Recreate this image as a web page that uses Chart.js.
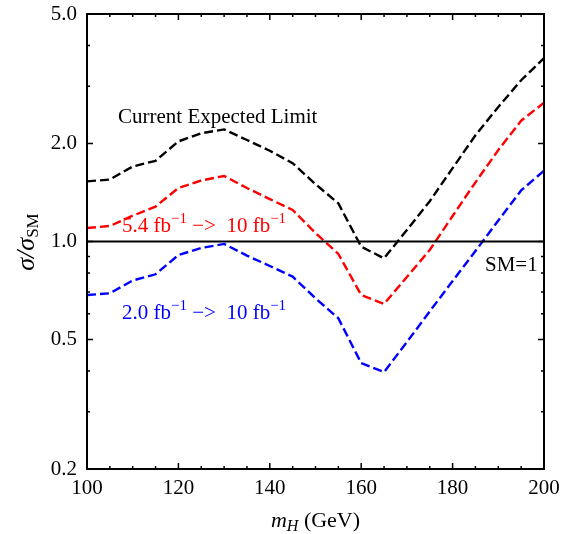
<!DOCTYPE html>
<html>
<head>
<meta charset="utf-8">
<script src="https://cdn.jsdelivr.net/npm/chart.js@4"></script>
<style>
  html, body { margin: 0; padding: 0; background: #fff; }
  canvas { display: block; }
</style>
</head>
<body>
<canvas id="limitChart" width="576" height="534"></canvas>
<script>
// data block
const massPoints = [100, 105, 110, 115, 120, 125, 130, 135, 140, 145, 150, 155, 160, 165, 170, 175, 180, 185, 190, 195, 200];
const currentLimit = [1.53, 1.55, 1.70, 1.77, 2.03, 2.15, 2.21, 2.05, 1.90, 1.74, 1.50, 1.31, 0.964, 0.888, 1.085, 1.33, 1.68, 2.12, 2.59, 3.13, 3.66];
const lumi54to10 = [1.10, 1.116, 1.20, 1.28, 1.46, 1.54, 1.59, 1.46, 1.35, 1.25, 1.062, 0.916, 0.685, 0.643, 0.778, 0.942, 1.198, 1.52, 1.91, 2.35, 2.67];
const lumi20to10 = [0.685, 0.693, 0.759, 0.793, 0.909, 0.955, 0.983, 0.905, 0.841, 0.780, 0.669, 0.581, 0.423, 0.397, 0.491, 0.610, 0.756, 0.935, 1.16, 1.435, 1.65];
const smValue = 1;

const xMajorTicks = [100, 120, 140, 160, 180, 200];
const xMinorStep = 5;
const yMajorTicks = [0.2, 0.5, 1.0, 2.0, 5.0];
const yMinorTicks = [0.3, 0.4, 0.6, 0.7, 0.8, 0.9, 3, 4];

const serif = '"Liberation Serif", "DejaVu Serif", serif';

function toPoints(values) {
	return massPoints.map((m, i) => ({ x: m, y: values[i] }));
}

// draw a row of text pieces (for sub/superscripts)
function drawRuns(ctx, x, y, runs) {
	let cx = x;
	runs.forEach((r) => {
		ctx.font = (r.style || '') + ' ' + r.size + 'px ' + serif;
		ctx.fillText(r.t, cx, y + (r.dy || 0));
		cx += ctx.measureText(r.t).width;
	});
}

function runsWidth(ctx, runs) {
	let w = 0;
	runs.forEach((r) => {
		ctx.font = (r.style || '') + ' ' + r.size + 'px ' + serif;
		w += ctx.measureText(r.t).width;
	});
	return w;
}

// frame, inward ticks, titles, labels
const framePlugin = {
	id: 'framePlugin',
	afterDraw(chart) {
		const ctx = chart.ctx;
		const area = chart.chartArea;
		const xs = chart.scales.x;
		const ys = chart.scales.y;
		ctx.save();
		ctx.strokeStyle = '#000';
		ctx.lineWidth = 2;
		ctx.strokeRect(area.left, area.top, area.right - area.left, area.bottom - area.top);

		ctx.lineWidth = 1.5;
		ctx.beginPath();
		for (let m = xs.min; m <= xs.max; m += xMinorStep) {
			const px = xs.getPixelForValue(m);
			const len = xMajorTicks.includes(m) ? 6 : 3;
			ctx.moveTo(px, area.bottom); ctx.lineTo(px, area.bottom - len);
			ctx.moveTo(px, area.top); ctx.lineTo(px, area.top + len);
		}
		yMajorTicks.concat(yMinorTicks).forEach((v) => {
			const py = ys.getPixelForValue(v);
			const len = yMajorTicks.includes(v) ? 6 : 3;
			ctx.moveTo(area.left, py); ctx.lineTo(area.left + len, py);
			ctx.moveTo(area.right, py); ctx.lineTo(area.right - len, py);
		});
		ctx.stroke();

		ctx.fillStyle = '#000';
		ctx.textBaseline = 'alphabetic';
		ctx.textAlign = 'left';

		// x title
		const xRuns = [
			{ t: 'm', size: 22, style: 'italic' },
			{ t: 'H', size: 16, style: 'italic', dy: 4 },
			{ t: ' (GeV)', size: 22 },
		];
		const xw = runsWidth(ctx, xRuns);
		drawRuns(ctx, (area.left + area.right) / 2 - xw / 2, 527, xRuns);

		// y title
		const yRuns = [
			{ t: 'σ/σ', size: 26, style: 'italic' },
			{ t: 'SM', size: 17, dy: 4 },
		];
		const yw = runsWidth(ctx, yRuns);
		ctx.save();
		ctx.translate(34, 242);
		ctx.rotate(-Math.PI / 2);
		drawRuns(ctx, -yw / 2, 0, yRuns);
		ctx.restore();

		// annotations
		ctx.fillStyle = '#000';
		drawRuns(ctx, 118, 123, [{ t: 'Current Expected Limit', size: 21 }]);
		drawRuns(ctx, 485, 271, [{ t: 'SM=1', size: 21 }]);
		const lumiRuns = (a) => [
			{ t: a + ' fb', size: 21 },
			{ t: '−1', size: 15, dy: -9 },
			{ t: ' −>  10 fb', size: 21 },
			{ t: '−1', size: 15, dy: -9 },
		];
		ctx.fillStyle = '#ff0000';
		drawRuns(ctx, 122, 232, lumiRuns('5.4'));
		ctx.fillStyle = '#0000ff';
		drawRuns(ctx, 122, 319, lumiRuns('2.0'));
		ctx.restore();
	},
};

const dashed = (color) => ({
	borderColor: color,
	backgroundColor: color,
	borderWidth: 2.4,
	borderDash: [9, 4],
	pointRadius: 0,
	tension: 0,
	fill: false,
});

// keep the plot box where the reference has it
function noScalePadding(s) {
	s.paddingTop = 0;
	s.paddingBottom = 0;
	s.paddingLeft = 0;
	s.paddingRight = 0;
}

// config block
const config = {
	type: 'line',
	data: {
		datasets: [
			{ label: 'SM', data: [{ x: 100, y: smValue }, { x: 200, y: smValue }], borderColor: '#000', borderWidth: 2.2, pointRadius: 0 },
			{ label: 'Current Expected Limit', data: toPoints(currentLimit), ...dashed('#000000') },
			{ label: '5.4 fb-1 -> 10 fb-1', data: toPoints(lumi54to10), ...dashed('#ff0000') },
			{ label: '2.0 fb-1 -> 10 fb-1', data: toPoints(lumi20to10), ...dashed('#0000ff') },
		],
	},
	options: {
		responsive: false,
		animation: false,
		devicePixelRatio: 1,
		layout: { padding: { left: 0, top: 14, right: 32, bottom: 0 } },
		plugins: { legend: { display: false }, tooltip: { enabled: false } },
		scales: {
			x: {
				type: 'linear',
				min: 100,
				max: 200,
				border: { display: false },
				grid: { display: false, drawTicks: false },
				afterBuildTicks: (s) => { s.ticks = xMajorTicks.map((v) => ({ value: v })); },
				afterFit: (s) => { s.height = 65; noScalePadding(s); },
				ticks: { color: '#000', padding: 7, maxRotation: 0, font: { family: serif, size: 21 } },
			},
			y: {
				type: 'logarithmic',
				min: 0.2,
				max: 5,
				border: { display: false },
				grid: { display: false, drawTicks: false },
				afterBuildTicks: (s) => { s.ticks = yMajorTicks.map((v) => ({ value: v })); },
				afterFit: (s) => { s.width = 87; noScalePadding(s); },
				ticks: {
					color: '#000',
					padding: 10,
					font: { family: serif, size: 21 },
					callback: (v) => Number(v).toFixed(1),
				},
			},
		},
	},
	plugins: [framePlugin],
};

// render / init block
const limitChart = new Chart(document.getElementById('limitChart'), config);
</script>
</body>
</html>
